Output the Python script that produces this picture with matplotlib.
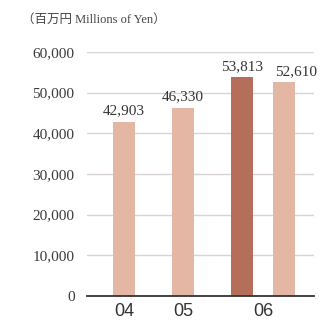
import matplotlib
matplotlib.use("Agg")
import matplotlib.pyplot as plt

# data
years = ["04", "05", "06"]
values = [42903, 46330, 53813, 52610]
bar_pos = [0, 1, 2, 2.71]
year_pos = [0, 1, 2.355]
labels = ["42,903", "46,330", "53,813", "52,610"]
yticks = [0, 10000, 20000, 30000, 40000, 50000, 60000]
ytick_labels = ["0", "10,000", "20,000", "30,000", "40,000", "50,000", "60,000"]

light = "#E4B7A4"
dark = "#B46E59"
colors = [light, light, dark, light]
label_dx = [0, 0, 0, 9]

serif = ["Liberation Serif", "Noto Sans CJK JP"]

fig = plt.figure(figsize=(3.22, 3.23), dpi=100)
ax = fig.add_axes([87/322, 27/323, 227/322, 244/323])

ax.bar(bar_pos, values, width=0.373, color=colors, zorder=3)
ax.set_xlim(-0.627, 3.22)
ax.set_ylim(0, 60000)

ax.set_yticks(yticks)
ax.set_yticklabels(ytick_labels, family="Liberation Serif", fontsize=11, color="#3a3a3a")
ax.set_xticks(year_pos)
ax.set_xticklabels(years, family="Liberation Sans", fontsize=13, color="#333333")
ax.tick_params(axis="y", length=0, pad=9)
ax.tick_params(axis="x", length=0, pad=5)

ax.grid(axis="y", color="#D9D3D3", linewidth=1, zorder=0)
for s in ["top", "right", "left"]:
    ax.spines[s].set_visible(False)
ax.spines["bottom"].set_color("#333333")
ax.spines["bottom"].set_linewidth(1.3)
ax.spines["bottom"].set_zorder(4)

for x, v, t, dx in zip(bar_pos, values, labels, label_dx):
    ax.annotate(t, (x, v), xytext=(dx, 3), textcoords="offset points",
                ha="center", va="bottom", family="Liberation Serif",
                fontsize=11, color="#333333")

fig.text(22/322, 1 - 20/323, "（百万円 Millions of Yen）", family=serif,
         fontsize=9, color="#444444", ha="left", va="center")

fig.savefig("out.png", dpi=100)
